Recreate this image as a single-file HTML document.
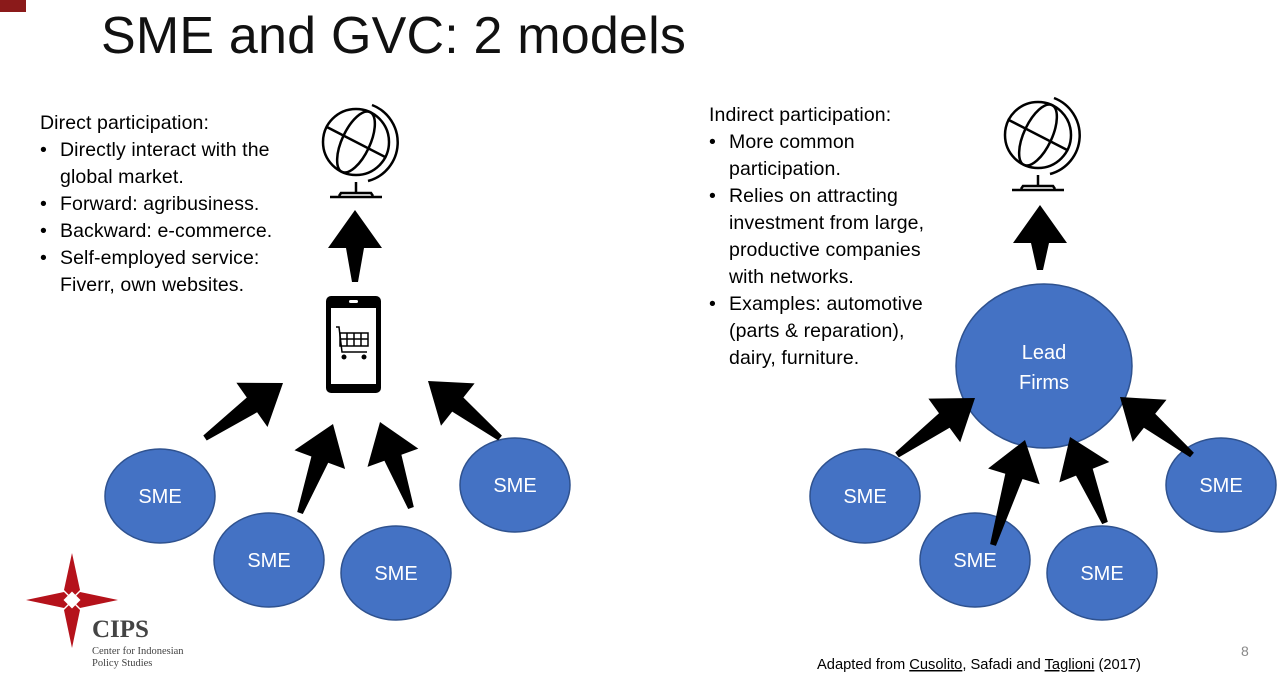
<!DOCTYPE html>
<html><head><meta charset="utf-8"><style>
body{margin:0;width:1280px;height:682px;background:#fff;position:relative;overflow:hidden;font-family:"Liberation Sans",sans-serif;}
.t{position:absolute;color:#000;font-size:19.5px;line-height:27px;white-space:nowrap;letter-spacing:0.1px}
ul{margin:0;padding:0;list-style:none}
li{position:relative;padding-left:20px}
li:before{content:"•";position:absolute;left:0}
</style></head><body>
<div style="position:absolute;left:0;top:0;width:26px;height:12px;background:#8b1a1a"></div>
<div style="position:absolute;left:101px;top:6px;font-size:52px;letter-spacing:0.2px;color:#111">SME and GVC: 2 models</div>
<div class="t" style="left:40px;top:110px">Direct participation:<ul>
<li>Directly interact with the<br>global market.</li><li>Forward: agribusiness.</li><li>Backward: e-commerce.</li><li>Self-employed service:<br>Fiverr, own websites.</li></ul></div>
<div class="t" style="left:709px;top:102px">Indirect participation:<ul>
<li>More common<br>participation.</li><li>Relies on attracting<br>investment from large,<br>productive companies<br>with networks.</li><li>Examples: automotive<br>(parts &amp; reparation),<br>dairy, furniture.</li></ul></div>
<svg id="s" width="1280" height="682" style="position:absolute;left:0;top:0" font-family="Liberation Sans,sans-serif">
<g fill="#4472c4" stroke="#2f528f" stroke-width="1.5">
<ellipse cx="160" cy="496" rx="55" ry="47"/><ellipse cx="269" cy="560" rx="55" ry="47"/><ellipse cx="396" cy="573" rx="55" ry="47"/><ellipse cx="515" cy="485" rx="55" ry="47"/>
<ellipse cx="865" cy="496" rx="55" ry="47"/><ellipse cx="975" cy="560" rx="55" ry="47"/><ellipse cx="1102" cy="573" rx="55" ry="47"/><ellipse cx="1221" cy="485" rx="55" ry="47"/>
<ellipse cx="1044" cy="366" rx="88" ry="82"/></g>
<g fill="#fff" font-size="20" text-anchor="middle">
<text x="160" y="503">SME</text><text x="269" y="567">SME</text><text x="396" y="580">SME</text><text x="515" y="492">SME</text>
<text x="865" y="503">SME</text><text x="975" y="567">SME</text><text x="1102" y="580">SME</text><text x="1221" y="492">SME</text>
<text x="1044" y="359">Lead</text><text x="1044" y="389">Firms</text></g>
<g id="arr" fill="#000"></g>
<g fill="none" stroke="#000" stroke-width="2.5">
<g transform="translate(356,142)"><circle r="33"/><ellipse rx="14" ry="33" transform="rotate(25)"/><line x1="-33" y1="-9" x2="33" y2="9" transform="rotate(12)"/><path d="M16,-37 A40,40 0 0 1 12,39"/><line x1="0" y1="40" x2="0" y2="50"/><path d="M-17,54 L-15,51 H15 L17,54"/><line x1="-26" y1="55" x2="26" y2="55"/></g>
<g transform="translate(1038,135)"><circle r="33"/><ellipse rx="14" ry="33" transform="rotate(25)"/><line x1="-33" y1="-9" x2="33" y2="9" transform="rotate(12)"/><path d="M16,-37 A40,40 0 0 1 12,39"/><line x1="0" y1="40" x2="0" y2="50"/><path d="M-17,54 L-15,51 H15 L17,54"/><line x1="-26" y1="55" x2="26" y2="55"/></g>
</g>
<rect x="326" y="296" width="55" height="97" rx="5" fill="#000"/>
<rect x="331" y="308" width="45" height="76" fill="#fff"/>
<rect x="349" y="300" width="9" height="3" rx="1.5" fill="#fff"/>
<g stroke="#000" stroke-width="1.5" fill="none"><path d="M336,327 h3 l3,25 h25"/><rect x="340" y="333" width="28" height="13"/><line x1="340" y1="339" x2="368" y2="339"/><line x1="347" y1="333" x2="347" y2="346"/><line x1="354" y1="333" x2="354" y2="346"/><line x1="361" y1="333" x2="361" y2="346"/></g>
<circle cx="344" cy="357" r="2.5"/><circle cx="364" cy="357" r="2.5"/>
<g fill="#b5121b"><path d="M72,553 L80,590 L72,598 L64,590Z"/><path d="M72,648 L80,610 L72,602 L64,610Z"/><path d="M26,600 L64,592 L72,600 L64,608Z"/><path d="M118,600 L80,592 L72,600 L80,608Z"/></g>
<rect x="66" y="594" width="12" height="12" fill="#fff" transform="rotate(45 72 600)"/>
<text x="92" y="637" font-family="Liberation Serif,serif" font-size="25" font-weight="bold" fill="#444">CIPS</text>
<text x="92" y="654" font-family="Liberation Serif,serif" font-size="10.5" fill="#444">Center for Indonesian</text>
<text x="92" y="666" font-family="Liberation Serif,serif" font-size="10.5" fill="#444">Policy Studies</text>
<text x="817" y="669" font-size="14.7" fill="#000">Adapted from <tspan text-decoration="underline">Cusolito</tspan>, Safadi and <tspan text-decoration="underline">Taglioni</tspan> (2017)</text>
<text x="1241" y="656" font-size="14" fill="#888">8</text>
</svg>
<script>
var A=[[355,282,355,210],[205,438,283,383],[300,513,333,424],[411,508,380,422],[500,438,428,381],
[1040,270,1040,205],[897,455,975,398],[993,545,1025,440],[1105,523,1070,437],[1192,455,1120,397]];
var g=document.getElementById('arr'),h='';
A.forEach(function(a){var sx=a[0],sy=a[1],tx=a[2],ty=a[3],dx=tx-sx,dy=ty-sy,l=Math.hypot(dx,dy);dx/=l;dy/=l;var nx=-dy,ny=dx,L=38,W=27,w=9,t=3;
var bx=tx-dx*L,by=ty-dy*L;
var p=[[sx+nx*t,sy+ny*t],[bx+nx*w,by+ny*w],[bx+nx*W,by+ny*W],[tx,ty],[bx-nx*W,by-ny*W],[bx-nx*w,by-ny*w],[sx-nx*t,sy-ny*t]];
h+='<polygon points="'+p.map(function(q){return q[0].toFixed(1)+','+q[1].toFixed(1)}).join(' ')+'"/>';});
g.innerHTML=h;
</script>
</body></html>
